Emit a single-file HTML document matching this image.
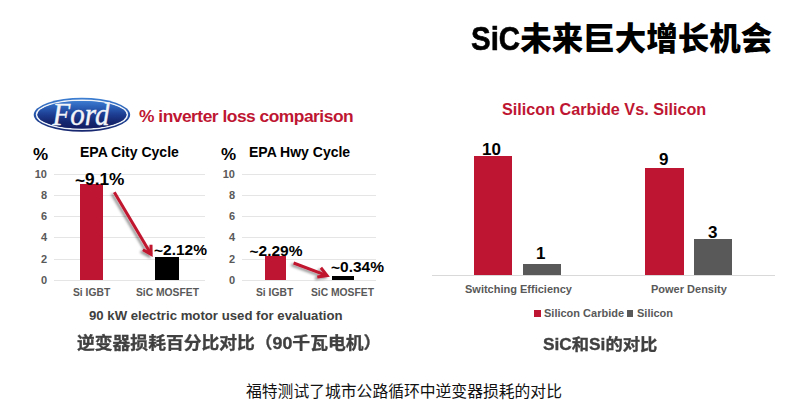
<!DOCTYPE html>
<html><head><meta charset="utf-8">
<style>
html,body{margin:0;padding:0;background:#fff;}
body{width:800px;height:412px;position:relative;overflow:hidden;font-family:"Liberation Sans","Noto Sans CJK SC",sans-serif;}
.t{position:absolute;white-space:nowrap;line-height:1;}
.b{font-weight:bold;}
.red{color:#BE1632;}
.ax{color:#595959;font-weight:bold;font-size:10.3px;}
.yl{position:absolute;width:14px;text-align:right;font-weight:bold;font-size:11px;color:#595959;line-height:1;}
.gl{position:absolute;height:1px;background:#E5E5E5;}
.bar{position:absolute;}
</style></head>
<body>
<!-- Title -->
<div class="t" style="left:471px;top:22px;font-size:31.5px;color:#000;font-weight:900;"><span style="display:inline-block;font-size:33.5px;transform:scaleX(0.88);transform-origin:0 0;margin-right:-6.5px;-webkit-text-stroke:0.6px #000;">SiC</span>未来巨大增长机会</div>

<!-- Ford logo -->
<svg style="position:absolute;left:0;top:0;" width="140" height="140" viewBox="0 0 140 140">
  <defs>
    <linearGradient id="fo" x1="0" y1="0" x2="0" y2="1">
      <stop offset="0" stop-color="#3d7fd2"/>
      <stop offset="0.45" stop-color="#2557ad"/>
      <stop offset="1" stop-color="#16246c"/>
    </linearGradient>
    <linearGradient id="fi" x1="0" y1="0" x2="0" y2="1">
      <stop offset="0" stop-color="#3c7bd0"/>
      <stop offset="0.25" stop-color="#2a5cb4"/>
      <stop offset="0.5" stop-color="#1c3c90"/>
      <stop offset="0.75" stop-color="#152770"/>
      <stop offset="1" stop-color="#121c62"/>
    </linearGradient>
  </defs>
  <ellipse cx="81.95" cy="114.8" rx="48.2" ry="17" fill="url(#fo)"/>
  <ellipse cx="81.95" cy="114.8" rx="45.4" ry="14.5" fill="none" stroke="#f0f3f8" stroke-width="1.6"/>
  <ellipse cx="81.95" cy="114.8" rx="44.5" ry="13.8" fill="url(#fi)"/>
  <text x="0" y="0" transform="translate(52.5,125) scale(1,1.06)" font-family="Liberation Serif" font-style="italic" font-size="29" fill="#f2f4f8" stroke="#f2f4f8" stroke-width="0.4">Ford</text>
</svg>
<div class="t b red" style="left:139px;top:107.5px;font-size:17.4px;letter-spacing:-0.5px;">% inverter loss comparison</div>

<!-- Chart 1 -->
<div class="t b" style="left:33px;top:146px;font-size:17px;color:#000;">%</div>
<div class="t b" style="left:80px;top:145px;font-size:14px;color:#000;">EPA City Cycle</div>
<div class="gl" style="left:54px;width:151px;top:174px;"></div>
<div class="gl" style="left:54px;width:151px;top:195px;"></div>
<div class="gl" style="left:54px;width:151px;top:216px;"></div>
<div class="gl" style="left:54px;width:151px;top:237px;"></div>
<div class="gl" style="left:54px;width:151px;top:259px;"></div>
<div class="gl" style="left:54px;width:151px;top:280px;"></div>
<div class="yl" style="left:33px;top:169px;">10</div>
<div class="yl" style="left:33px;top:190px;">8</div>
<div class="yl" style="left:33px;top:211px;">6</div>
<div class="yl" style="left:33px;top:232px;">4</div>
<div class="yl" style="left:33px;top:254px;">2</div>
<div class="yl" style="left:33px;top:275px;">0</div>
<div class="bar" style="left:80px;width:23px;top:184px;height:96px;background:#BE1632;"></div>
<div class="bar" style="left:155px;width:24px;top:257px;height:23px;background:#000;"></div>
<div class="t b" style="left:75px;top:171px;font-size:17.3px;color:#000;"><span style="position:relative;top:1.3px">~</span>9.1%</div>
<div class="t b" style="left:154px;top:241.5px;font-size:15.5px;color:#000;"><span style="position:relative;top:1.3px">~</span>2.12%</div>
<div class="t ax" style="left:73px;top:288px;">Si IGBT</div>
<div class="t ax" style="left:136px;top:288px;">SiC MOSFET</div>

<!-- Chart 2 -->
<div class="t b" style="left:221px;top:146px;font-size:17px;color:#000;">%</div>
<div class="t b" style="left:249px;top:145px;font-size:14px;color:#000;">EPA Hwy Cycle</div>
<div class="gl" style="left:242px;width:134px;top:174px;"></div>
<div class="gl" style="left:242px;width:134px;top:195px;"></div>
<div class="gl" style="left:242px;width:134px;top:216px;"></div>
<div class="gl" style="left:242px;width:134px;top:237px;"></div>
<div class="gl" style="left:242px;width:134px;top:259px;"></div>
<div class="gl" style="left:242px;width:134px;top:280px;"></div>
<div class="yl" style="left:221px;top:169px;">10</div>
<div class="yl" style="left:221px;top:190px;">8</div>
<div class="yl" style="left:221px;top:211px;">6</div>
<div class="yl" style="left:221px;top:232px;">4</div>
<div class="yl" style="left:221px;top:254px;">2</div>
<div class="yl" style="left:221px;top:275px;">0</div>
<div class="bar" style="left:265px;width:21px;top:256px;height:24px;background:#BE1632;"></div>
<div class="bar" style="left:332px;width:22px;top:276px;height:4px;background:#000;"></div>
<div class="t b" style="left:249.5px;top:242.5px;font-size:15.5px;color:#000;"><span style="position:relative;top:1.3px">~</span>2.29%</div>
<div class="t b" style="left:331px;top:258.5px;font-size:15.5px;color:#000;"><span style="position:relative;top:1.3px">~</span>0.34%</div>
<div class="t ax" style="left:256px;top:288px;">Si IGBT</div>
<div class="t ax" style="left:311px;top:288px;">SiC MOSFET</div>

<!-- arrows -->
<svg style="position:absolute;left:0;top:0;" width="800" height="412">
  <defs>
    <filter id="sh" x="-20%" y="-20%" width="140%" height="140%">
      <feDropShadow dx="-2.3" dy="1.6" stdDeviation="1" flood-color="#000" flood-opacity="0.4"/>
    </filter>
  </defs>
  <g stroke="#C0142F" stroke-width="3" fill="none" stroke-linecap="butt" stroke-linejoin="miter" stroke-miterlimit="10" filter="url(#sh)">
    <line x1="114.3" y1="192.2" x2="151.1" y2="254.2"/>
    <polyline points="151,244.8 151.15,254.3 142.9,249.7"/>
    <line x1="293.6" y1="263" x2="327.1" y2="275.6"/>
    <polyline points="320.9,267.8 327.1,275.6 317.3,277.1"/>
  </g>
</svg>

<div class="t b" style="left:89px;top:309px;font-size:13.2px;color:#404040;">90 kW electric motor used for evaluation</div>
<div class="t b" style="left:77px;top:335px;font-size:17.8px;color:#404040;-webkit-text-stroke:0.35px #404040;transform:scaleY(0.93);transform-origin:0 80%;">逆变器损耗百分比对比（90千瓦电机）</div>

<!-- Right chart -->
<div class="t b red" style="left:502px;top:101px;font-size:16.2px;">Silicon Carbide Vs. Silicon</div>
<div class="gl" style="left:432px;width:343px;top:275px;background:#D9D9D9;"></div>
<div class="bar" style="left:474px;width:38px;top:156px;height:119px;background:#BE1632;"></div>
<div class="bar" style="left:523px;width:38px;top:264px;height:11px;background:#595959;"></div>
<div class="bar" style="left:645px;width:39px;top:168px;height:107px;background:#BE1632;"></div>
<div class="bar" style="left:694px;width:38px;top:239px;height:36px;background:#595959;"></div>
<div class="t b" style="left:482px;top:141px;font-size:17px;color:#000;">10</div>
<div class="t b" style="left:536px;top:245px;font-size:17px;color:#000;">1</div>
<div class="t b" style="left:659px;top:151px;font-size:17px;color:#000;">9</div>
<div class="t b" style="left:708px;top:224px;font-size:17px;color:#000;">3</div>
<div class="t ax" style="left:465px;top:284px;font-size:11px;">Switching Efficiency</div>
<div class="t ax" style="left:651px;top:284px;font-size:11px;">Power Density</div>
<div class="bar" style="left:534px;width:7px;top:310px;height:7px;background:#BE1632;"></div>
<div class="t ax" style="left:544px;top:308px;font-size:11px;">Silicon Carbide</div>
<div class="bar" style="left:627px;width:6px;top:310px;height:7px;background:#595959;"></div>
<div class="t ax" style="left:637px;top:308px;font-size:11px;">Silicon</div>
<div class="t b" style="left:543px;top:336px;font-size:17.3px;color:#404040;-webkit-text-stroke:0.35px #404040;transform:scaleY(0.93);transform-origin:0 80%;">SiC和Si的对比</div>

<!-- caption -->
<div class="t" style="left:246px;top:384px;font-size:15.8px;color:#111;">福特测试了城市公路循环中逆变器损耗的对比</div>
</body></html>
